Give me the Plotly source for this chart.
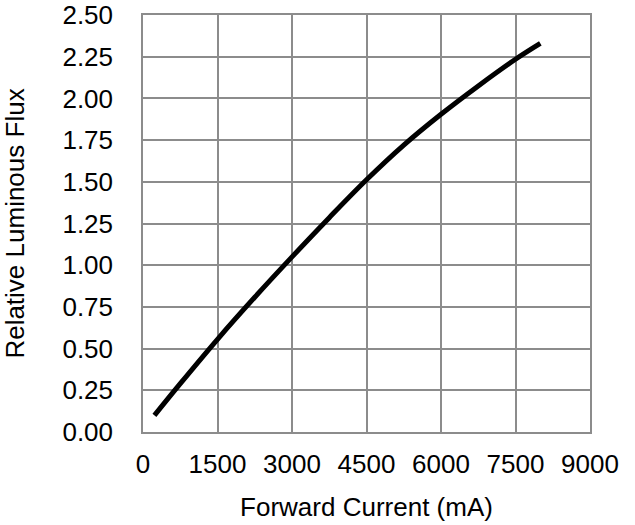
import plotly.graph_objects as go

current_ma = [230, 750, 1500, 2250, 3000, 3750, 4500, 5250, 6000, 6750, 7500, 8000]
rel_flux = [0.10, 0.29, 0.556, 0.808, 1.05, 1.285, 1.512, 1.72, 1.905, 2.075, 2.235, 2.33]

x_ticks = [0, 1500, 3000, 4500, 6000, 7500, 9000]
y_ticks = [0, 0.25, 0.5, 0.75, 1.0, 1.25, 1.5, 1.75, 2.0, 2.25, 2.5]

fig = go.Figure()
fig.add_trace(go.Scatter(x=current_ma, y=rel_flux, mode="lines",
                         line=dict(color="black", width=5, shape="spline", smoothing=1.0),
                         showlegend=False))

font = dict(family="Liberation Sans, Arial, sans-serif", size=26, color="black")
fig.update_layout(
    width=635, height=525,
    margin=dict(l=143, r=45, t=15, b=93),
    paper_bgcolor="white", plot_bgcolor="white",
    font=font,
)
fig.update_xaxes(range=[0, 9000], tickvals=x_ticks, ticktext=[str(v) for v in x_ticks],
                 showgrid=True, gridcolor="#8c8c8c", gridwidth=1.5,
                 showline=True, linecolor="#8c8c8c", linewidth=1.5, mirror=True,
                 zeroline=False, ticks="", ticklabelstandoff=8, automargin=False,
                 tickfont=dict(size=26),
                 title=dict(text="Forward Current (mA)", standoff=20, font=dict(size=26)))
fig.update_yaxes(range=[0, 2.5], tickvals=y_ticks, ticktext=[f"{v:.2f}" for v in y_ticks],
                 showgrid=True, gridcolor="#8c8c8c", gridwidth=1.5,
                 showline=True, linecolor="#8c8c8c", linewidth=1.5, mirror=True,
                 zeroline=False, ticks="", ticklabelstandoff=23, automargin=False,
                 tickfont=dict(size=26),
                 title=dict(text="Relative Luminous Flux", standoff=34, font=dict(size=26)))
fig.write_html("out.html")
